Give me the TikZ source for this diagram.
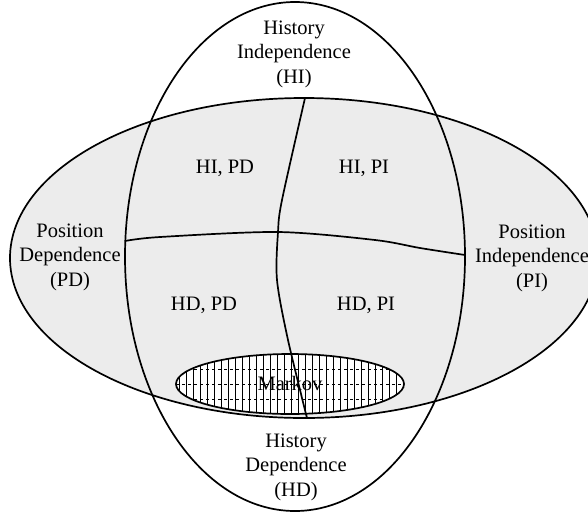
\documentclass[tikz,border=0pt]{standalone}
\usepackage{fontspec}
\setmainfont{Liberation Serif}
\usepackage{xcolor}
\usepackage{tikz}
\definecolor{stipple}{RGB}{236, 236, 236}

\begin{document}
\begin{tikzpicture}[x=1pt,y=-1pt,
  lbl/.style={align=center, inner sep=0pt, font=\fontsize{20.5}{24.5}\selectfont},
  rim/.style={line width=1.7pt}]
\useasboundingbox (0,0) rectangle (588,512);
\clip (0,0) rectangle (588,512);
% shaded position ellipse
\fill[stipple] (304,258) ellipse [x radius=294pt, y radius=160pt];
% Markov region
\fill[white] (290,384) ellipse [x radius=114pt, y radius=30pt];
\begin{scope}
\clip (290,384) ellipse [x radius=114pt, y radius=30pt];
\foreach \x in {179,186,...,404}
  \draw[line width=0.9pt] (\x,350) -- (\x,420);
\foreach \y in {369,384,399}
  \draw[dashed, very thin] (170,\y) -- (410,\y);
\end{scope}
% outlines
\draw[rim] (304,258) ellipse [x radius=294pt, y radius=160pt];
\draw[rim] (295,256.5) ellipse [x radius=170pt, y radius=254.5pt];
\draw[rim] (290,384) ellipse [x radius=114pt, y radius=30pt];
\coordinate (hitop) at (305,98);
\coordinate (hdbot) at (307,418);
\coordinate (pdend) at (125,241);
\coordinate (piend) at (465,255);
\draw[rim] plot[smooth] coordinates {(hitop) (282,200) (278,232) (277,280) (288,340) (hdbot)};
\draw[rim] plot[smooth] coordinates {(pdend) (160,237) (278,232) (375,240) (420,248) (piend)};
% labels
\node[lbl] (hi) at (294,54) {History\\Independence\\(HI)};
\node[lbl] (hd) at (296,467) {History\\Dependence\\(HD)};
\node[lbl] (pd) at (70,257) {Position\\Dependence\\(PD)};
\node[lbl] (pi) at (532,258) {Position\\Independence\\(PI)};
\node[lbl] (hipd) at (225,168) {HI, PD};
\node[lbl] (hipi) at (364,168) {HI, PI};
\node[lbl] (hdpd) at (204,305) {HD, PD};
\node[lbl] (hdpi) at (366,305) {HD, PI};
\node[lbl] (markov) at (290,383) {Markov};
\end{tikzpicture}
\end{document}
